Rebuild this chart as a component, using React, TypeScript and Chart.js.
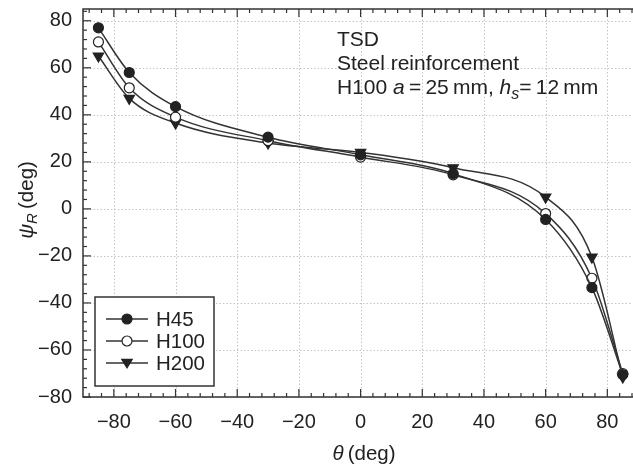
import React, { useEffect, useRef } from "react";
import { Chart, registerables } from "chart.js";

Chart.register(...registerables);

const THETA = [-85, -75, -60, -30, 0, 30, 60, 75, 85];
const H45 = [77, 58, 43.5, 30.5, 23, 15, -4.5, -33.5, -70.5];
const H100 = [71, 51.5, 39, 29, 22, 14.5, -2, -29.5, -70];
const H200 = [65, 47, 36.5, 28, 24, 17.5, 5, -20.5, -71.5];
const SERIES_NAMES = ["H45", "H100", "H200"];
const X_TICKS = [-80, -60, -40, -20, 0, 20, 40, 60, 80];
const Y_TICKS = [-80, -60, -40, -20, 0, 20, 40, 60, 80];
const NOTE_LINES = ["TSD", "Steel reinforcement"];

const FONT = "'Liberation Sans', Arial, Helvetica, sans-serif";
const INK = "#222";
const AREA_RIGHT = 632;

const fmt = (v: number) => (v < 0 ? "\u2212" + Math.abs(v) : String(v));

function drawMarker(ctx: CanvasRenderingContext2D, kind: number, x: number, y: number, r: number) {
  ctx.save();
  ctx.lineWidth = 1.2;
  ctx.strokeStyle = INK;
  ctx.beginPath();
  if (kind === 2) {
    const h = r * 1.6;
    ctx.moveTo(x - r * 1.05, y - h * 0.45);
    ctx.lineTo(x + r * 1.05, y - h * 0.45);
    ctx.lineTo(x, y + h * 0.6);
    ctx.closePath();
    ctx.fillStyle = INK;
  } else {
    ctx.arc(x, y, r, 0, Math.PI * 2);
    ctx.fillStyle = kind === 0 ? INK : "#fff";
  }
  ctx.fill();
  ctx.stroke();
  ctx.restore();
}

const framePlugin = {
  id: "framePlugin",
  afterLayout(chart: any) {
    const ca = chart.chartArea;
    ca.right = AREA_RIGHT;
    ca.width = ca.right - ca.left;
    const xs = chart.scales.x;
    xs.right = AREA_RIGHT;
    xs.width = xs.right - xs.left;
    xs.configure();
  },
  beforeDatasetsDraw(chart: any) {
    const { ctx, chartArea, scales } = chart;
    const { left, right, top, bottom } = chartArea;
    ctx.save();
    ctx.strokeStyle = "#c4c4c4";
    ctx.lineWidth = 1;
    ctx.setLineDash([1.5, 2]);
    for (const v of X_TICKS) {
      const px = Math.round(scales.x.getPixelForValue(v)) + 0.5;
      ctx.beginPath();
      ctx.moveTo(px, top);
      ctx.lineTo(px, bottom);
      ctx.stroke();
    }
    for (const v of Y_TICKS) {
      const py = Math.round(scales.y.getPixelForValue(v)) + 0.5;
      ctx.beginPath();
      ctx.moveTo(left, py);
      ctx.lineTo(right, py);
      ctx.stroke();
    }
    ctx.restore();
  },
  afterDatasetsDraw(chart: any) {
    const { ctx, chartArea, scales } = chart;
    const { left, right, top, bottom } = chartArea;
    const xs = scales.x;
    const ys = scales.y;
    ctx.save();
    ctx.strokeStyle = "#333";
    ctx.lineWidth = 1.5;
    ctx.strokeRect(left, top, right - left + 4, bottom - top);
    ctx.lineWidth = 1.2;
    const xmin = xs.min, xmax = xs.max, ymin = ys.min, ymax = ys.max;
    for (let v = Math.ceil(xmin / 4) * 4; v <= xmax; v += 4) {
      const px = xs.getPixelForValue(v);
      const len = v % 20 === 0 ? 8 : 4;
      ctx.beginPath();
      ctx.moveTo(px, bottom);
      ctx.lineTo(px, bottom - len);
      ctx.moveTo(px, top);
      ctx.lineTo(px, top + len);
      ctx.stroke();
    }
    for (let v = Math.ceil(ymin / 4) * 4; v <= ymax; v += 4) {
      const py = ys.getPixelForValue(v);
      const len = v % 20 === 0 ? 8 : 4;
      ctx.beginPath();
      ctx.moveTo(left, py);
      ctx.lineTo(left + len, py);
      ctx.stroke();
    }

    // legend
    const lx = 95, ly = 297, lw = 119, lh = 89;
    ctx.fillStyle = "#fff";
    ctx.fillRect(lx, ly, lw, lh);
    ctx.lineWidth = 1.5;
    ctx.strokeStyle = "#333";
    ctx.strokeRect(lx, ly, lw, lh);
    ctx.font = `20.5px ${FONT}`;
    ctx.textBaseline = "middle";
    ctx.textAlign = "left";
    SERIES_NAMES.forEach((name, i) => {
      const ry = 319 + i * 22;
      ctx.strokeStyle = "#333";
      ctx.lineWidth = 1.5;
      ctx.beginPath();
      ctx.moveTo(106, ry);
      ctx.lineTo(148, ry);
      ctx.stroke();
      drawMarker(ctx, i, 127, ry, 5);
      ctx.fillStyle = INK;
      ctx.fillText(name, 156, ry + 1);
    });

    // annotation
    ctx.textBaseline = "alphabetic";
    ctx.fillStyle = INK;
    ctx.font = `21px ${FONT}`;
    NOTE_LINES.forEach((t, i) => ctx.fillText(t, 337, 46 + i * 24));
    let cx = 337;
    const by = 94;
    const part = (t: string, font: string, dy = 0) => {
      ctx.font = font;
      ctx.fillText(t, cx, by + dy);
      cx += ctx.measureText(t).width;
    };
    part("H100 ", `21px ${FONT}`);
    part("a", `italic 21px ${FONT}`);
    part("\u2009=\u200925\u2009mm, ", `21px ${FONT}`);
    part("h", `italic 21px ${FONT}`);
    part("s", `italic 16px ${FONT}`, 5);
    part("=\u200912\u2009mm", `21px ${FONT}`);

    // axis titles
    {
      ctx.font = `italic 20.5px ${FONT}`;
      const w1 = ctx.measureText("\u03b8").width;
      ctx.font = `20.5px ${FONT}`;
      const w2 = ctx.measureText("\u2009(deg)").width;
      const sx = 364 - (w1 + w2) / 2;
      ctx.font = `italic 20.5px ${FONT}`;
      ctx.fillText("\u03b8", sx, 460);
      ctx.font = `20.5px ${FONT}`;
      ctx.fillText("\u2009(deg)", sx + w1, 460);
    }
    {
      ctx.save();
      ctx.translate(33, 200);
      ctx.rotate(-Math.PI / 2);
      ctx.font = `italic 20.5px ${FONT}`;
      const wpsi = ctx.measureText("\u03c8").width;
      ctx.font = `italic 15px ${FONT}`;
      const wr = ctx.measureText("R").width;
      ctx.font = `20.5px ${FONT}`;
      const wd = ctx.measureText("\u2009(deg)").width;
      let sx = -(wpsi + wr + wd) / 2;
      ctx.font = `italic 20.5px ${FONT}`;
      ctx.fillText("\u03c8", sx, 0);
      sx += wpsi;
      ctx.font = `italic 15px ${FONT}`;
      ctx.fillText("R", sx, 4);
      sx += wr;
      ctx.font = `20.5px ${FONT}`;
      ctx.fillText("\u2009(deg)", sx, 0);
      ctx.restore();
    }
    ctx.restore();
  },
};

export default function App() {
  const ref = useRef<HTMLCanvasElement | null>(null);
  useEffect(() => {
    if (!ref.current) return;
    const mk = (vals: number[]) => THETA.map((x, i) => ({ x, y: vals[i] }));
    const base = {
      borderColor: "#333",
      borderWidth: 1.5,
      pointBorderColor: INK,
      pointBorderWidth: 1.2,
      pointRadius: 5,
      cubicInterpolationMode: "monotone" as const,
      fill: false,
      clip: 8,
    };
    const chart = new Chart(ref.current, {
      type: "line",
      data: {
        datasets: [
          { ...base, label: SERIES_NAMES[0], data: mk(H45), pointStyle: "circle", pointBackgroundColor: INK },
          { ...base, label: SERIES_NAMES[1], data: mk(H100), pointStyle: "circle", pointBackgroundColor: "#fff" },
          { ...base, label: SERIES_NAMES[2], data: mk(H200), pointStyle: "triangle", pointRotation: 180, pointRadius: 6, pointBackgroundColor: INK },
        ],
      },
      options: {
        animation: false,
        responsive: false,
        layout: { padding: { top: 9, right: 1, left: 0, bottom: 0 } },
        plugins: { legend: { display: false }, tooltip: { enabled: false } },
        scales: {
          x: {
            type: "linear",
            min: -90,
            max: 88,
            grid: { display: false, drawTicks: false },
            border: { display: false },
            afterBuildTicks: (s: any) => { s.ticks = X_TICKS.map((v) => ({ value: v })); },
            afterFit: (s: any) => { s.height = 69; s.paddingLeft = 0; s.paddingRight = 0; },
            ticks: { padding: 13, color: INK, font: { family: FONT, size: 20 }, callback: (v: any) => fmt(Number(v)), maxRotation: 0, autoSkip: false },
          },
          y: {
            type: "linear",
            min: -80,
            max: 85,
            grid: { display: false, drawTicks: false },
            border: { display: false },
            afterBuildTicks: (s: any) => { s.ticks = Y_TICKS.map((v) => ({ value: v })); },
            afterFit: (s: any) => { s.width = 83; s.paddingTop = 0; s.paddingBottom = 0; },
            ticks: { padding: 11, color: INK, font: { family: FONT, size: 20 }, callback: (v: any) => fmt(Number(v)), autoSkip: false },
          },
        },
      },
      plugins: [framePlugin],
    });
    return () => chart.destroy();
  }, []);
  return (
    <div style={{ position: "fixed", left: 0, top: 0, width: 633, height: 466, background: "#fff", overflow: "hidden" }}>
      <canvas ref={ref} width={633} height={466} style={{ display: "block" }} />
    </div>
  );
}
